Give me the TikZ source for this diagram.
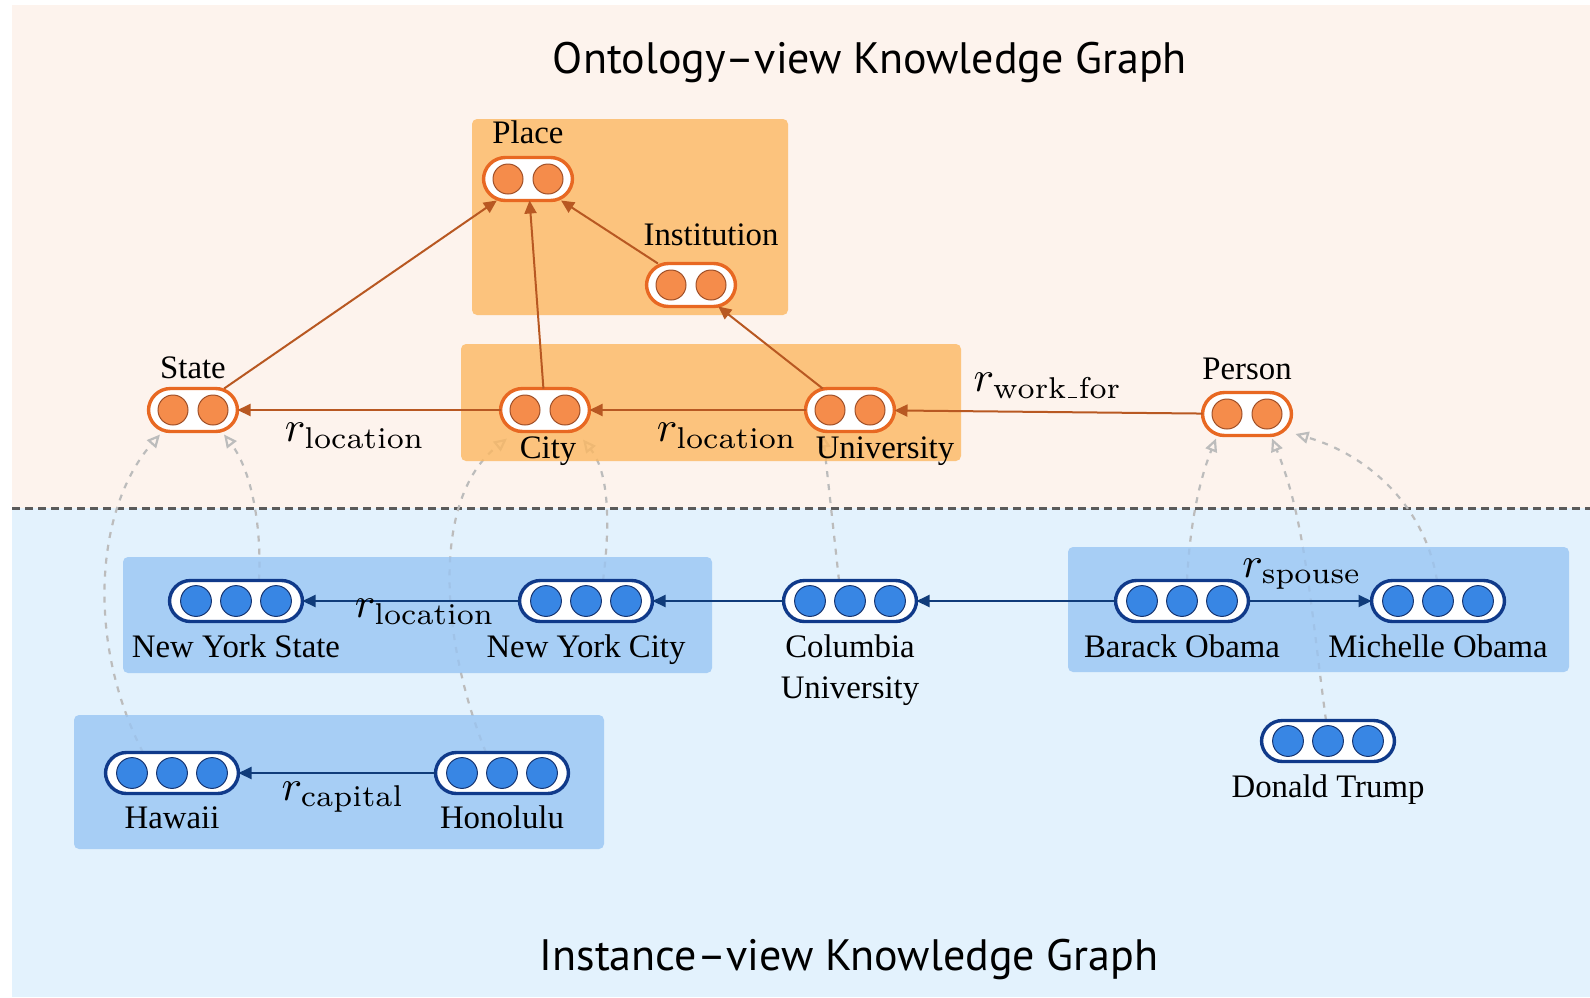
\documentclass[tikz,border=0pt]{standalone}
\usepackage{graphicx}
\usepackage{fontspec}
\newfontfamily\seriflbl{Liberation Serif}
\newfontfamily\titlefont{PT Sans}
\usetikzlibrary{arrows.meta}

\definecolor{peachbg}{RGB}{253,243,237}
\definecolor{bluebg}{RGB}{227,242,253}
\definecolor{orangebox}{RGB}{252,184,97}
\definecolor{bluebox}{RGB}{153,197,243}
\definecolor{ontoline}{RGB}{232,104,34}
\definecolor{ontodot}{RGB}{245,140,75}
\definecolor{ontodotline}{RGB}{160,80,40}
\definecolor{ontoarrow}{RGB}{184,88,34}
\definecolor{instline}{RGB}{16,58,138}
\definecolor{instdot}{RGB}{56,134,228}
\definecolor{instdotline}{RGB}{22,52,112}
\definecolor{instarrow}{RGB}{16,60,122}
\definecolor{typelink}{RGB}{188,188,188}
\definecolor{divider}{RGB}{90,90,90}

\pgfdeclarelayer{back}
\pgfdeclarelayer{links}
\pgfdeclarelayer{panels}
\pgfsetlayers{back,links,panels,main}

% relation names are set at 10pt and enlarged, so that the subscripts keep their small-size design
\newcommand{\relname}[1]{\scalebox{2.15}{\fontsize{10}{12}\selectfont$r_{\mathrm{#1}}$}}
\newcommand{\lowbar}{\kern.42pt\rule{2.1pt}{0.4pt}\kern.42pt}

\tikzset{
  ontonode/.style={draw=ontoline, line width=1.7pt, fill=white,
    rounded corners=11pt, minimum width=44.5pt, minimum height=21.5pt,
    inner sep=0pt, outer sep=0pt,
    path picture={\foreach \d in {-10pt,10pt}{
      \filldraw[fill=ontodot, draw=ontodotline, line width=0.5pt]
        ([xshift=\d]path picture bounding box.center) circle (7.5pt);}}},
  instnode/.style={draw=instline, line width=1.7pt, fill=white,
    rounded corners=10.5pt, minimum width=66.5pt, minimum height=20.5pt,
    inner sep=0pt, outer sep=0pt,
    path picture={\foreach \d in {-20pt,0pt,20pt}{
      \filldraw[fill=instdot, draw=instdotline, line width=0.5pt]
        ([xshift=\d]path picture bounding box.center) circle (7.7pt);}}},
  lbl/.style={font=\seriflbl\fontsize{16.4}{20}\selectfont, inner sep=0pt, anchor=base},
  rel/.style={inner sep=0pt},
  ontoedge/.style={draw=ontoarrow, line width=1pt, -{Triangle[length=6.5pt,width=6pt]}},
  instedge/.style={draw=instarrow, line width=1pt, -{Triangle[length=6.5pt,width=6pt]}},
  typeof/.style={draw=typelink, line width=1.1pt, dash pattern=on 3pt off 3.5pt,
    -{Triangle[open,length=6.5pt,width=6pt]}},
  orangepanel/.style={fill=orangebox, fill opacity=0.8, rounded corners=2.5pt},
  bluepanel/.style={fill=bluebox, fill opacity=0.8, rounded corners=2.5pt},
  titletext/.style={font=\titlefont\fontsize{22}{26}\selectfont, anchor=base, inner sep=0pt},
}

\begin{document}
\begin{tikzpicture}[x=0.5pt, y=-0.5pt]
\useasboundingbox (0,0) rectangle (1590,997);

% two halves of the sheet and the divider
\begin{pgfonlayer}{back}
  \fill[peachbg] (12,5) rectangle (1590,508);
  \fill[bluebg] (12,508) rectangle (1590,997);
  \draw[divider, line width=1.5pt, dash pattern=on 4pt off 2.5pt] (12,508) -- (1590,508);
\end{pgfonlayer}

% titles
\node[titletext] (ontotitle) at (870,73) {Ontology–view Knowledge Graph};
\node[titletext] (insttitle) at (849,970) {Instance–view Knowledge Graph};

% ontology concepts
\node[ontonode] (Place)  at (528,179) {};
\node[ontonode] (Inst)   at (691,285) {};
\node[ontonode] (State)  at (193,410) {};
\node[ontonode] (City)   at (545,410) {};
\node[ontonode] (Univ)   at (850,410) {};
\node[ontonode] (Person) at (1247,414) {};

\node[lbl] (lPlace)  at (528,143) {Place};
\node[lbl] (lInst)   at (711,245) {Institution};
\node[lbl] (lState)  at (193,378) {State};
\node[lbl] (lPerson) at (1247,379) {Person};
\node[lbl] (lCity)   at (548,458) {City};
\node[lbl] (lUniv)   at (885,458) {University};

% instances
\node[instnode] (NYS)      at (236,601) {};
\node[instnode] (NYC)      at (586,601) {};
\node[instnode] (Columbia) at (850,601) {};
\node[instnode] (Barack)   at (1182,601) {};
\node[instnode] (Michelle) at (1438,601) {};
\node[instnode] (Trump)    at (1328,741) {};
\node[instnode] (Hawaii)   at (172,773) {};
\node[instnode] (Honolulu) at (502,773) {};

\node[lbl] (lNYS)      at (236,657) {New York State};
\node[lbl] (lNYC)      at (586,657) {New York City};
\node[lbl] (lColumbia) at (850,657) {Columbia};
\node[lbl] (lColumbiaB) at (850,698) {University};
\node[lbl] (lBarack)   at (1182,657) {Barack Obama};
\node[lbl] (lMichelle) at (1438,657) {Michelle Obama};
\node[lbl] (lTrump)    at (1328,797) {Donald Trump};
\node[lbl] (lHawaii)   at (172,828) {Hawaii};
\node[lbl] (lHonolulu) at (502,828) {Honolulu};

% ontology relations
\draw[ontoedge] (City) -- (State);
\draw[ontoedge] (Univ) -- (City);
\draw[ontoedge] (Person) -- (Univ);
\draw[ontoedge] (State) -- (Place);
\draw[ontoedge] (City) -- (Place);
\draw[ontoedge] (Inst) -- (Place);
\draw[ontoedge] (Univ) -- (Inst);

\node[rel] (rLoc1) at (355,436) {\relname{location}};
\node[rel] (rLoc2) at (727,436) {\relname{location}};
\node[rel] (rWork) at (1048,386) {\relname{work\lowbar for}};

% instance relations
\draw[instedge] (NYC) -- (NYS);
\draw[instedge] (Columbia) -- (NYC);
\draw[instedge] (Barack) -- (Columbia);
\draw[instedge] (Barack) -- (Michelle);
\draw[instedge] (Honolulu) -- (Hawaii);

\node[rel] (rLoc3)   at (425,612) {\relname{location}};
\node[rel] (rCap)    at (343,797) {\relname{capital}};
\node[rel] (rSpouse) at (1302,574) {\relname{spouse}};

% instance-of links
\begin{pgfonlayer}{links}
  \draw[typeof] ([xshift=-14.5pt]Hawaii.north) .. controls +(-57,-111) and +(-65,74) .. ([xshift=-16.5pt,yshift=-1.5pt]State.south);
  \draw[typeof] ([xshift=11.5pt]NYS.north) .. controls +(3,-59) and +(26,34) .. ([xshift=15.5pt,yshift=-1.5pt]State.south);
  \draw[typeof] ([xshift=-8pt]Honolulu.north) .. controls +(-45,-111) and +(-77,61) .. ([xshift=-19pt,yshift=-3.5pt]City.south);
  \draw[typeof] ([xshift=8.5pt]NYC.north) .. controls +(9,-69) and +(23,29) .. ([xshift=19pt,yshift=-4pt]City.south);
  \draw[typeof] ([xshift=-5.5pt]Columbia.north) -- ([xshift=-13.5pt,yshift=-1.5pt]Univ.south);
  \draw[typeof] ([xshift=2.5pt]Barack.north) .. controls +(3,-59) and +(-16,40) .. ([xshift=-15.5pt,yshift=-1.5pt]Person.south);
  \draw[typeof] ([xshift=-1pt]Trump.north) .. controls +(-16,-119) and +(33,80) .. ([xshift=12.5pt,yshift=-1.5pt]Person.south);
  \draw[typeof] ([xshift=-0.5pt]Michelle.north) .. controls +(-12,-74) and +(73,21) .. ([xshift=2pt,yshift=-10pt]Person.east);
\end{pgfonlayer}

% grouping panels
\begin{pgfonlayer}{panels}
  \fill[orangepanel] (472,119) rectangle (788,315);
  \fill[orangepanel] (461,344) rectangle (961,461);
  \fill[bluepanel] (123,557) rectangle (712,673);
  \fill[bluepanel] (74,715) rectangle (604,849);
  \fill[bluepanel] (1068,547) rectangle (1569,672);
\end{pgfonlayer}
\end{tikzpicture}
\end{document}
